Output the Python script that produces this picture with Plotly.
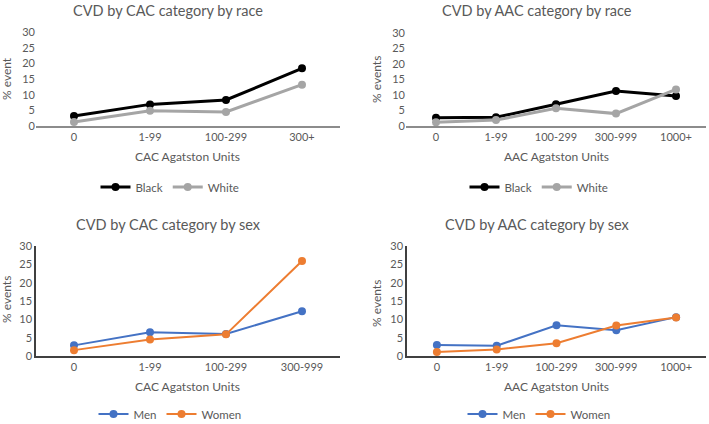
import plotly.graph_objects as go

# ---- data ----
cac_race_cats = ["0", "1-99", "100-299", "300+"]
cac_black = [3.2, 6.9, 8.3, 18.4]
cac_white = [1.3, 4.9, 4.5, 13.2]

aac_cats = ["0", "1-99", "100-299", "300-999", "1000+"]
aac_black = [2.7, 2.8, 7.0, 11.3, 9.7]
aac_white = [1.2, 1.9, 5.7, 4.0, 11.8]

cac_sex_cats = ["0", "1-99", "100-299", "300-999"]
cac_men = [2.9, 6.5, 6.0, 12.2]
cac_women = [1.6, 4.5, 5.9, 25.9]

aac_men = [3.0, 2.8, 8.4, 7.0, 10.6]
aac_women = [1.1, 1.8, 3.5, 8.3, 10.5]

y_ticks = [0, 5, 10, 15, 20, 25, 30]

W, H = 709, 424
FONT = "Lato"
TXT = "#595959"

def px(x):
    return x / W

def py(y):
    return 1 - y / H

fig = go.Figure()

BLACK = "#000000"
GRAY = "#A5A5A5"
BLUE = "#4472C4"
ORANGE = "#ED7D31"

def add(x, y, name, color, width, msize, xa, ya, legend):
    fig.add_trace(go.Scatter(
        x=x, y=y, name=name, mode="lines+markers",
        line=dict(color=color, width=width),
        marker=dict(color=color, size=msize),
        xaxis=xa, yaxis=ya, legend=legend,
    ))

add(cac_race_cats, cac_black, "Black", BLACK, 3, 8, "x", "y", "legend")
add(cac_race_cats, cac_white, "White", GRAY, 3, 8, "x", "y", "legend")
add(aac_cats, aac_black, "Black", BLACK, 3, 8, "x2", "y2", "legend2")
add(aac_cats, aac_white, "White", GRAY, 3, 8, "x2", "y2", "legend2")
add(cac_sex_cats, cac_men, "Men", BLUE, 2, 8, "x3", "y3", "legend3")
add(cac_sex_cats, cac_women, "Women", ORANGE, 2, 8, "x3", "y3", "legend3")
add(aac_cats, aac_men, "Men", BLUE, 2, 8, "x4", "y4", "legend4")
add(aac_cats, aac_women, "Women", ORANGE, 2, 8, "x4", "y4", "legend4")

tickfont = dict(family=FONT, size=11, color=TXT)

def xaxis(dom, n, linecolor, anchor):
    return dict(domain=dom, range=[-0.5, n - 0.5], showgrid=False, zeroline=False,
                showline=True, linecolor=linecolor, linewidth=1.5, anchor=anchor,
                ticks="", tickfont=tickfont, fixedrange=True, automargin=False)

def yaxis(dom, anchor, showline):
    return dict(domain=dom, range=[0, 30], tickvals=y_ticks, showgrid=False, zeroline=False,
                showline=showline, linecolor="#404040", linewidth=1.5, anchor=anchor,
                ticks="", tickfont=tickfont, fixedrange=True, automargin=False)

dx1 = [px(36), px(340)]
dx2 = [px(406), px(706)]
dy_top1 = [py(126), py(32)]
dy_top2 = [py(126), py(33)]
dy_bot = [py(356), py(246)]

layout = dict(
    width=W, height=H, margin=dict(l=0, r=0, t=0, b=0, autoexpand=False),
    paper_bgcolor="white", plot_bgcolor="white",
    font=dict(family=FONT, color=TXT),
    xaxis=xaxis(dx1, len(cac_race_cats), "#8C8C8C", "y"),
    yaxis=yaxis(dy_top1, "x", False),
    xaxis2=xaxis(dx2, len(aac_cats), "#8C8C8C", "y2"),
    yaxis2=yaxis(dy_top2, "x2", False),
    xaxis3=xaxis(dx1, len(cac_sex_cats), "#404040", "y3"),
    yaxis3=yaxis(dy_bot, "x3", True),
    xaxis4=xaxis([px(407), px(706)], len(aac_cats), "#404040", "y4"),
    yaxis4=yaxis(dy_bot, "x4", True),
)

def leg(x, y):
    return dict(x=px(x), y=py(y), xanchor="center", yanchor="middle", orientation="h",
                font=dict(family=FONT, size=11.5, color=TXT), bgcolor="rgba(0,0,0,0)",
                tracegroupgap=0)

layout["legend"] = leg(170, 187)
layout["legend2"] = leg(539, 187)
layout["legend3"] = leg(170, 414)
layout["legend4"] = leg(539, 414)

fig.update_layout(**layout)

def ann(text, x, y, size, angle=0):
    fig.add_annotation(text=text, x=px(x), y=py(y), xref="paper", yref="paper",
                       xanchor="center", yanchor="middle", showarrow=False,
                       textangle=angle, font=dict(family=FONT, size=size, color=TXT))

# titles
ann("CVD by CAC category by race", 168, 10, 14.5)
ann("CVD by AAC category by race", 537, 11, 14.5)
ann("CVD by CAC category by sex", 168, 224, 14.5)
ann("CVD by AAC category by sex", 537, 224, 14.5)
# y titles
ann("% event", 6, 79, 12, -90)
ann("% events", 376, 79, 12, -90)
ann("% events", 6, 300, 12, -90)
ann("% events", 376, 303, 12, -90)
# x titles
ann("CAC Agatston Units", 188, 156, 12)
ann("AAC Agatston Units", 556, 156, 12)
ann("CAC Agatston Units", 188, 386, 12)
ann("AAC Agatston Units", 556, 386, 12)

fig.write_html("out.html", config={"displayModeBar": False},
               post_script="document.body.style.margin='0';document.body.style.overflow='hidden';")
